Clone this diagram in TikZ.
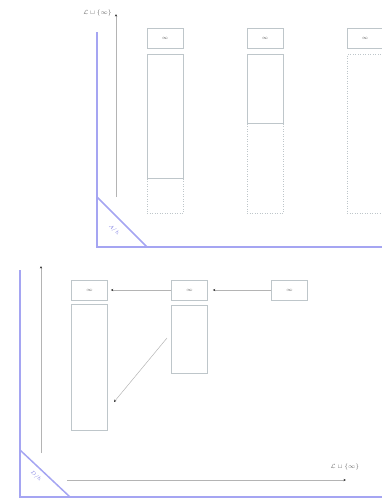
\documentclass[tikz,border=0pt]{standalone}
\usepackage{amsmath,amssymb}
\usetikzlibrary{arrows.meta}
\definecolor{frameblue}{RGB}{165,165,242}
\definecolor{labelblue}{RGB}{120,120,225}
\definecolor{boxgray}{RGB}{190,198,202}
\definecolor{axisgray}{RGB}{180,180,180}
\begin{document}
\begin{tikzpicture}[x=1pt,y=-1pt,
  frameline/.style={draw=frameblue,line width=1.5pt},
  axis/.style={draw=axisgray,line width=0.6pt,-{Stealth[length=2.5pt,width=2.2pt,color=black!80]}},
  link/.style={draw=axisgray,line width=0.5pt,-{Stealth[length=2.5pt,width=2.2pt,color=black!80]}},
  infbox/.style={draw=boxgray,line width=0.5pt,minimum width=36pt,minimum height=20pt,inner sep=0pt,
    font=\fontsize{4}{5}\selectfont,text=black!60},
  colbox/.style={draw=boxgray,line width=0.5pt,minimum width=36pt,inner sep=0pt},
  ghostbox/.style={draw=boxgray,line width=0.5pt,dotted,minimum width=36pt,inner sep=0pt},
  axlabel/.style={font=\fontsize{6}{7}\selectfont,text=black!60,inner sep=1pt},
  trilabel/.style={font=\fontsize{5}{6}\selectfont,text=labelblue,inner sep=0pt,rotate=-45}]
\useasboundingbox (0,0) rectangle (381,501);

% ---------- upper panel ----------
\coordinate (tTop) at (97,32);
\coordinate (tO) at (97,247);
\coordinate (tRight) at (385,247);
\coordinate (tD1) at (97,197);
\coordinate (tD2) at (147,247);
\draw[frameline] (tTop) -- (tO) -- (tRight);
\draw[frameline] (tD1) -- (tD2);
\node[trilabel] (tA) at (114,230) {$A/h$};

\coordinate (ta0) at (116,197);
\coordinate (ta1) at (116,14);
\draw[axis] (ta0) -- (ta1);
\node[axlabel,anchor=east] (tlab) at (113,13) {$\mathcal{L}\sqcup\{\infty\}$};

\node[infbox] (u1) at (165,38) {$\infty$};
\node[infbox] (u2) at (265,38) {$\infty$};
\node[infbox] (u3) at (365,38) {$\infty$};

\node[ghostbox,minimum height=35pt] (g1) at (165,195.5) {};
\node[ghostbox,minimum height=90pt] (g2) at (265,168) {};
\node[ghostbox,minimum height=159pt] (g3) at (365,133.5) {};
\node[colbox,fill=white,minimum height=124pt] (s1) at (165,116) {};
\node[colbox,fill=white,minimum height=69pt] (s2) at (265,88.5) {};

% ---------- lower panel ----------
\coordinate (bTop) at (20,270);
\coordinate (bO) at (20,497);
\coordinate (bRight) at (385,497);
\coordinate (bD1) at (20,450);
\coordinate (bD2) at (70,497);
\draw[frameline] (bTop) -- (bO) -- (bRight);
\draw[frameline] (bD1) -- (bD2);
\node[trilabel] (bD) at (36,476) {$D/h$};

\coordinate (ba0) at (41,453);
\coordinate (ba1) at (41,266);
\draw[axis] (ba0) -- (ba1);
\coordinate (bh0) at (67,480);
\coordinate (bh1) at (346,480);
\draw[axis] (bh0) -- (bh1);
\node[axlabel] (blab) at (345,467) {$\mathcal{L}\sqcup\{\infty\}$};

\node[infbox] (d1) at (89.5,290) {$\infty$};
\node[infbox] (d2) at (189.5,290) {$\infty$};
\node[infbox] (d3) at (289.5,290) {$\infty$};
\node[colbox,minimum height=126pt] (e1) at (89.5,367) {};
\node[colbox,minimum height=68pt] (e2) at (189.5,339) {};

\draw[link,shorten >=3pt] (d2.west) -- (d1.east);
\draw[link,shorten >=5pt] (d3.west) -- (d2.east);
\coordinate (m0) at (167,338);
\coordinate (m1) at (114,402);
\draw[link] (m0) -- (m1);
\end{tikzpicture}
\end{document}
